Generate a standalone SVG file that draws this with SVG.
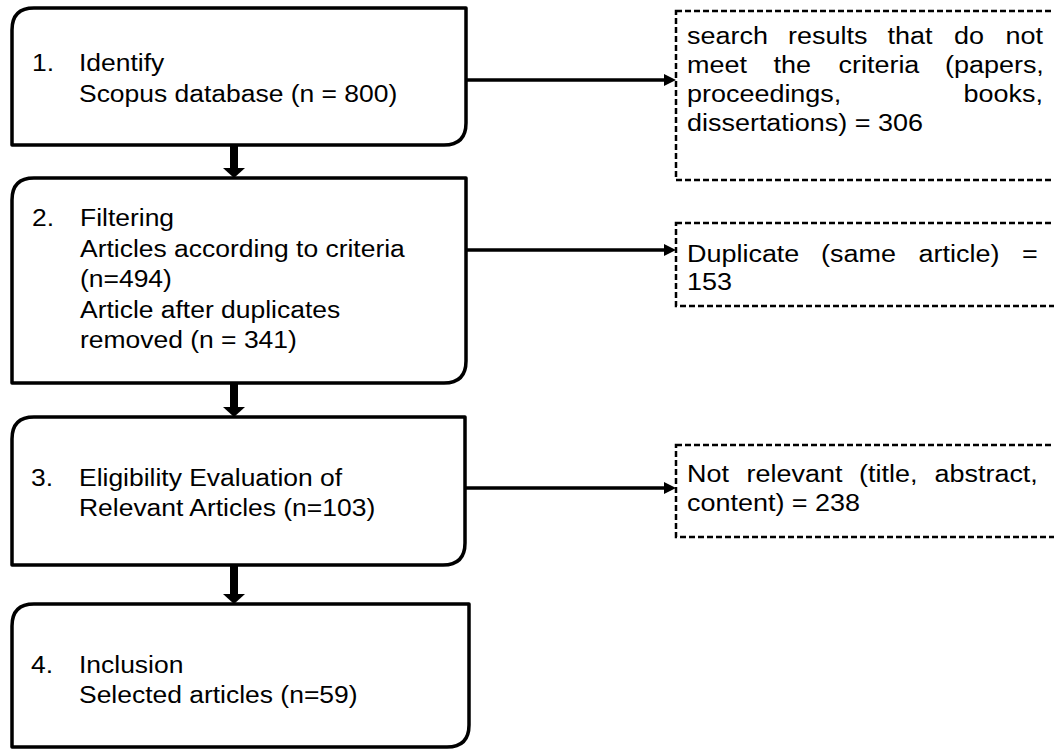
<svg xmlns="http://www.w3.org/2000/svg" width="1054" height="751" viewBox="0 0 1054 751">
<style>
.box{fill:#fff;stroke:#000;stroke-width:3.5;stroke-linejoin:round}
.dbox{fill:#fff;stroke:#000;stroke-width:2.5;stroke-dasharray:6 3}
.t{font-family:"Liberation Sans",Arial,sans-serif;font-size:24.5px;fill:#000}
.hl{stroke:#000;stroke-width:3.5;fill:none}
.vl{stroke:#000;stroke-width:8;fill:none}
</style>
<defs>
<marker id="hh" markerUnits="userSpaceOnUse" viewBox="0 0 12 12" refX="0" refY="6" markerWidth="12" markerHeight="12" orient="auto"><path d="M0,0 L12,6 L0,12 z" fill="#000"/></marker>
<marker id="vh" markerUnits="userSpaceOnUse" viewBox="0 0 10 22" refX="0" refY="11" markerWidth="10" markerHeight="22" orient="auto"><path d="M0,0 L10,11 L0,22 z" fill="#000"/></marker>
</defs>
<rect width="1054" height="751" fill="#fff"/>

<g id="connectors">
<line class="hl" x1="466" y1="80" x2="664" y2="80" marker-end="url(#hh)"/>
<line class="hl" x1="466" y1="250" x2="664" y2="250" marker-end="url(#hh)"/>
<line class="hl" x1="465" y1="488" x2="664" y2="488" marker-end="url(#hh)"/>
<line class="vl" x1="234" y1="145" x2="234" y2="168" marker-end="url(#vh)"/>
<line class="vl" x1="234" y1="383" x2="234" y2="407" marker-end="url(#vh)"/>
<line class="vl" x1="234" y1="565" x2="234" y2="594" marker-end="url(#vh)"/>
</g>

<g id="node1">
<path class="box" d="M12,145 L12,30 Q12,8 34,8 L466,8 L466,123 Q466,145 444,145 Z"/>
<text class="t" transform="matrix(1.08 0 0 1 32 71)">1.</text>
<text class="t" transform="matrix(1.08 0 0 1 79 71)">Identify</text>
<text class="t" transform="matrix(1.08 0 0 1 79 101.5)">Scopus database (n = 800)</text>
</g>

<g id="node2">
<path class="box" d="M12,383 L12,200 Q12,178 34,178 L466,178 L466,361 Q466,383 444,383 Z"/>
<text class="t" transform="matrix(1.08 0 0 1 32 226)">2.</text>
<text class="t" transform="matrix(1.08 0 0 1 80 226)">Filtering</text>
<text class="t" transform="matrix(1.08 0 0 1 80 256.5)">Articles according to criteria</text>
<text class="t" transform="matrix(1.08 0 0 1 80 287)">(n=494)</text>
<text class="t" transform="matrix(1.08 0 0 1 80 317.5)">Article after duplicates</text>
<text class="t" transform="matrix(1.08 0 0 1 80 348)">removed (n = 341)</text>
</g>

<g id="node3">
<path class="box" d="M12,565 L12,439 Q12,417 34,417 L465,417 L465,543 Q465,565 443,565 Z"/>
<text class="t" transform="matrix(1.08 0 0 1 31 486)">3.</text>
<text class="t" transform="matrix(1.08 0 0 1 79 486)">Eligibility Evaluation of</text>
<text class="t" transform="matrix(1.08 0 0 1 79 515.7)">Relevant Articles (n=103)</text>
</g>

<g id="node4">
<path class="box" d="M12,747 L12,626 Q12,604 34,604 L469,604 L469,725 Q469,747 447,747 Z"/>
<text class="t" transform="matrix(1.08 0 0 1 31 672.7)">4.</text>
<text class="t" transform="matrix(1.08 0 0 1 79 672.7)">Inclusion</text>
<text class="t" transform="matrix(1.08 0 0 1 79 702.7)">Selected articles (n=59)</text>
</g>

<g id="excl1">
<rect class="dbox" x="676" y="11" width="400" height="169"/>
<text class="t" transform="matrix(1.1 0 0 1 687 44)">search</text>
<text class="t" transform="matrix(1.1 0 0 1 788 44)">results</text>
<text class="t" transform="matrix(1.1 0 0 1 887.5 44)">that</text>
<text class="t" transform="matrix(1.1 0 0 1 954 44)">do</text>
<text class="t" transform="matrix(1.1 0 0 1 1005.5 44)">not</text>
<text class="t" transform="matrix(1.1 0 0 1 687 73)">meet</text>
<text class="t" transform="matrix(1.1 0 0 1 773.5 73)">the</text>
<text class="t" transform="matrix(1.1 0 0 1 838.5 73)">criteria</text>
<text class="t" transform="matrix(1.1 0 0 1 945 73)">(papers,</text>
<text class="t" transform="matrix(1.1 0 0 1 963.5 102)">books,</text>
<text class="t" transform="matrix(1.1 0 0 1 687 102)">proceedings,</text>
<text class="t" transform="matrix(1.1 0 0 1 687 131)">dissertations) = 306</text>
</g>

<g id="excl2">
<rect class="dbox" x="676" y="223" width="400" height="83"/>
<text class="t" transform="matrix(1.1 0 0 1 687 262)">Duplicate</text>
<text class="t" transform="matrix(1.1 0 0 1 821 262)">(same</text>
<text class="t" transform="matrix(1.1 0 0 1 918.5 262)">article)</text>
<text class="t" transform="matrix(1.1 0 0 1 1022 262)">=</text>
<text class="t" transform="matrix(1.1 0 0 1 687 290)">153</text>
</g>

<g id="excl3">
<rect class="dbox" x="676" y="445" width="400" height="92"/>
<text class="t" transform="matrix(1.1 0 0 1 687 482)">Not</text>
<text class="t" transform="matrix(1.1 0 0 1 746.5 482)">relevant</text>
<text class="t" transform="matrix(1.1 0 0 1 859 482)">(title,</text>
<text class="t" transform="matrix(1.1 0 0 1 934.5 482)">abstract,</text>
<text class="t" transform="matrix(1.1 0 0 1 687 511)">content) = 238</text>
</g>
</svg>
